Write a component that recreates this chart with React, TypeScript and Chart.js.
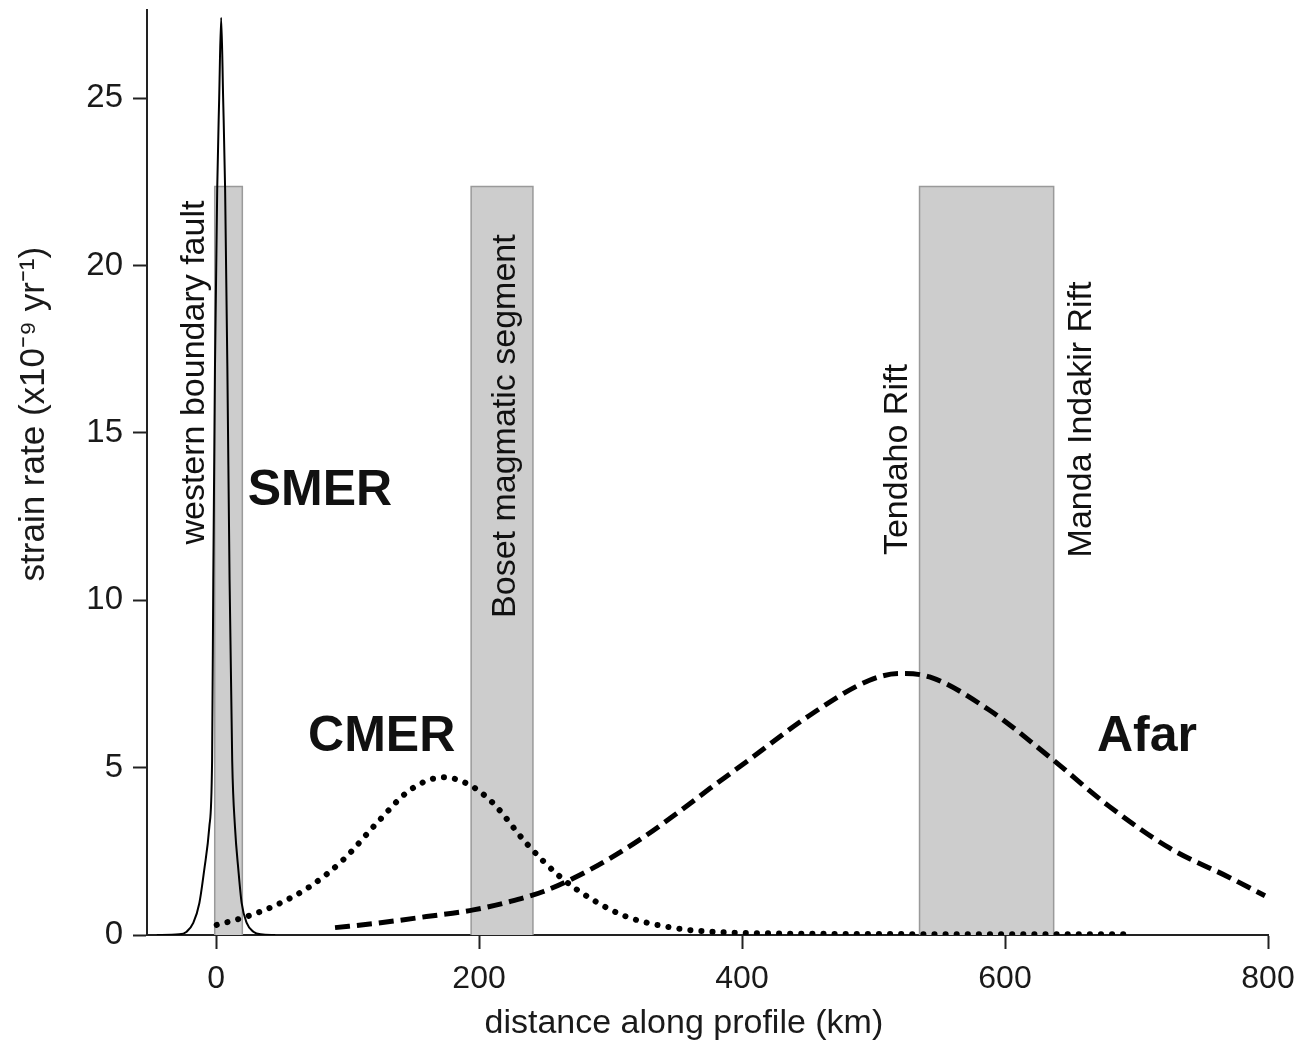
import React, { useEffect, useRef } from "react";
import { Chart, registerables } from "chart.js";

Chart.register(...registerables);

// ---- data ----
const smerX = [-45, -28, -22.3, -17.3, -12.7, -9.0, -5.1, -3, -2.1, -0.8, 0.9, 2.4, 3.9, 5.4, 6.9, 8.6, 10.3, 12.3, 14.4, 17, 19.5, 23.3, 28.4, 34, 45];
const smerY = [0, 0.02, 0.1, 0.36, 0.95, 1.94, 3.23, 5.2, 10.6, 17, 22.3, 25, 27.4, 25, 22.3, 17, 10.6, 5.2, 3.23, 1.94, 0.95, 0.36, 0.1, 0.02, 0];

const cmerX = [0.5, 20.8, 46, 71.5, 96.8, 122, 147.5, 172.9, 193, 210.9, 236, 261.6, 287, 312, 350, 375.7, 420, 500, 600, 690];
const cmerY = [0.3, 0.52, 0.9, 1.45, 2.25, 3.33, 4.33, 4.71, 4.48, 3.93, 2.74, 1.74, 1.04, 0.55, 0.2, 0.1, 0.05, 0.03, 0.02, 0.02];

const afarX = [90.5, 122, 160, 195.7, 223.6, 249, 274, 299.6, 325, 350, 375.7, 406, 451, 497, 520, 542.6, 588, 633.8, 679, 725, 770.6, 797.7];
const afarY = [0.22, 0.35, 0.55, 0.75, 1.0, 1.3, 1.74, 2.29, 2.92, 3.62, 4.38, 5.25, 6.55, 7.61, 7.81, 7.71, 6.72, 5.32, 3.85, 2.6, 1.72, 1.17];

const bandStarts = [-1, 194, 535];
const bandEnds = [20, 241, 637];
const bandTop = 22.36;

const regionLabels = ["western boundary fault", "Boset magmatic segment", "Tendaho Rift", "Manda Indakir Rift"];
const regionLabelX = [-16, 220, 518, 658.5];
const regionLabelY = [16.8, 15.2, 14.2, 15.4];

const zoneNames = ["SMER", "CMER", "Afar"];
const zoneX = [79, 126, 708];
const zoneY = [13.25, 5.9, 5.9];

const xTickValues = [0, 200, 400, 600, 800];
const yTickValues = [0, 5, 10, 15, 20, 25];

const xTitle = "distance along profile (km)";
const yTitle = "strain rate (x10\u207B\u2079 yr\u207B\u00B9)";

const FONT = "'Liberation Sans', Arial, Helvetica, sans-serif";

const toPoints = (xs: number[], ys: number[]) => xs.map((x, i) => ({ x, y: ys[i] }));

const bandsPlugin = {
  id: "bands",
  beforeDatasetsDraw(chart: any) {
    const { ctx, scales } = chart;
    const xs = scales.x;
    const ys = scales.y;
    ctx.save();
    for (let i = 0; i < bandStarts.length; i++) {
      const x0 = xs.getPixelForValue(bandStarts[i]);
      const x1 = xs.getPixelForValue(bandEnds[i]);
      const yT = ys.getPixelForValue(bandTop);
      const yB = ys.getPixelForValue(0);
      ctx.fillStyle = "#cdcdcd";
      ctx.fillRect(x0, yT, x1 - x0, yB - yT);
      ctx.strokeStyle = "#9a9a9a";
      ctx.lineWidth = 1.5;
      ctx.beginPath();
      ctx.moveTo(x0, yB);
      ctx.lineTo(x0, yT);
      ctx.lineTo(x1, yT);
      ctx.lineTo(x1, yB);
      ctx.stroke();
    }
    ctx.restore();
  },
};

const labelsPlugin = {
  id: "labels",
  afterDatasetsDraw(chart: any) {
    const { ctx, scales } = chart;
    const xs = scales.x;
    const ys = scales.y;
    ctx.save();
    ctx.fillStyle = "#111";
    ctx.textAlign = "center";
    ctx.textBaseline = "middle";
    ctx.font = `34px ${FONT}`;
    for (let i = 0; i < regionLabels.length; i++) {
      ctx.save();
      ctx.translate(xs.getPixelForValue(regionLabelX[i]), ys.getPixelForValue(regionLabelY[i]));
      ctx.rotate(-Math.PI / 2);
      ctx.fillText(regionLabels[i], 0, 0);
      ctx.restore();
    }
    ctx.font = `bold 50px ${FONT}`;
    for (let i = 0; i < zoneNames.length; i++) {
      ctx.fillText(zoneNames[i], xs.getPixelForValue(zoneX[i]), ys.getPixelForValue(zoneY[i]));
    }
    ctx.restore();
  },
};

export default function App() {
  const canvasRef = useRef<HTMLCanvasElement | null>(null);

  useEffect(() => {
    const canvas = canvasRef.current;
    if (!canvas) return;
    const chart = new Chart(canvas, {
      type: "line",
      data: {
        datasets: [
          {
            label: "SMER",
            data: toPoints(smerX, smerY),
            borderColor: "#000",
            borderWidth: 2,
            pointRadius: 0,
            fill: false,
            cubicInterpolationMode: "monotone",
          },
          {
            label: "CMER",
            data: toPoints(cmerX, cmerY),
            borderColor: "#000",
            borderWidth: 6,
            borderDash: [0.1, 11],
            borderCapStyle: "round",
            pointRadius: 0,
            fill: false,
            cubicInterpolationMode: "monotone",
          },
          {
            label: "Afar",
            data: toPoints(afarX, afarY),
            borderColor: "#000",
            borderWidth: 5,
            borderDash: [15, 7],
            borderCapStyle: "butt",
            pointRadius: 0,
            fill: false,
            cubicInterpolationMode: "monotone",
          },
        ],
      },
      options: {
        responsive: false,
        animation: false,
        devicePixelRatio: 1,
        layout: { padding: { top: 10, right: 33, left: 0, bottom: 0 } },
        plugins: {
          legend: { display: false },
          tooltip: { enabled: false },
        },
        scales: {
          x: {
            type: "linear",
            min: -52.5,
            max: 800,
            afterBuildTicks: (scale: any) => {
              scale.ticks = xTickValues.map((v) => ({ value: v }));
            },
            afterFit: (scale: any) => {
              scale.height = 109;
              scale.paddingLeft = 0;
              scale.paddingRight = 0;
            },
            grid: {
              drawOnChartArea: false,
              drawTicks: true,
              tickLength: 14,
              tickWidth: 2,
              tickColor: "#222",
            },
            border: { display: true, color: "#222", width: 2 },
            ticks: {
              color: "#1a1a1a",
              font: { family: FONT, size: 32 },
              padding: 11,
              maxRotation: 0,
              autoSkip: false,
            },
            title: {
              display: true,
              text: xTitle + "\u00A0\u00A0\u00A0\u00A0\u00A0",
              color: "#1a1a1a",
              font: { family: FONT, size: 34 },
              padding: { top: 0, bottom: 0 },
            },
          },
          y: {
            type: "linear",
            min: 0,
            max: 27.63,
            afterBuildTicks: (scale: any) => {
              scale.ticks = yTickValues.map((v) => ({ value: v }));
            },
            afterFit: (scale: any) => {
              scale.width = 147;
              scale.paddingTop = 0;
              scale.paddingBottom = 0;
            },
            grid: {
              drawOnChartArea: false,
              drawTicks: true,
              tickLength: 14,
              tickWidth: 2,
              tickColor: "#222",
            },
            border: { display: true, color: "#222", width: 2 },
            ticks: {
              color: "#1a1a1a",
              font: { family: FONT, size: 33 },
              padding: 10,
              autoSkip: false,
            },
            title: {
              display: true,
              text: "\u00A0".repeat(12) + yTitle,
              color: "#1a1a1a",
              font: { family: FONT, size: 35 },
              padding: { top: 13, bottom: 0 },
            },
          },
        },
      },
      plugins: [bandsPlugin, labelsPlugin],
    } as any);
    return () => chart.destroy();
  }, []);

  return (
    <div style={{ position: "absolute", left: 0, top: 0, width: 1301, height: 1044, background: "#fff" }}>
      <canvas ref={canvasRef} width={1301} height={1044} style={{ display: "block" }} />
    </div>
  );
}
